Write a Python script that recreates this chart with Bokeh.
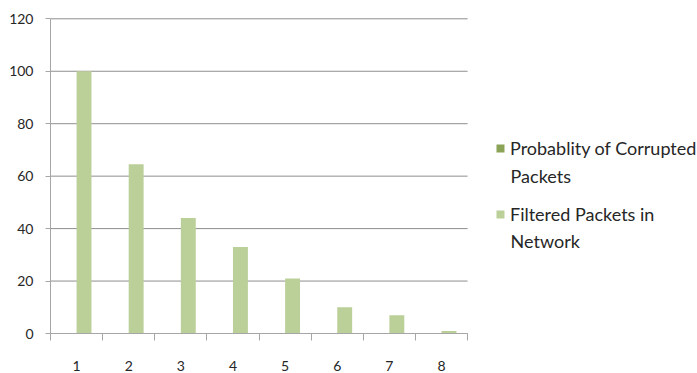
from bokeh.plotting import figure
from bokeh.models import (ColumnDataSource, Range1d, FixedTicker, Legend, LegendItem, Label)
from bokeh.transform import dodge
from bokeh.embed import file_html
from bokeh.resources import INLINE

# Packet index and the two measured series
packets = [1, 2, 3, 4, 5, 6, 7, 8]
corrupted_prob = [0, 0, 0, 0, 0, 0, 0, 0]
filtered_packets = [100, 64.5, 44, 33, 21, 10, 7, 1]
y_ticks = [0, 20, 40, 60, 80, 100, 120]

src = ColumnDataSource(dict(x=packets, corrupted=corrupted_prob, filtered=filtered_packets))

FONT = "Lato"
TEXT = "#262626"
X_LO, X_HI = 0.5, 8.5  # extent of the category axis

# The frame runs to the right edge so that the legend can sit inside it;
# the category axis and the gridlines are limited to the eight categories.
p = figure(width=697, height=373, output_backend="svg", toolbar_location=None,
           x_range=Range1d(X_LO, 12.91), y_range=Range1d(0, 120.5),
           min_border_left=50, min_border_right=0, min_border_top=17,
           min_border_bottom=38)
p.outline_line_color = None
p.background_fill_color = "white"
p.border_fill_color = "white"
p.xgrid.grid_line_color = None
p.ygrid.grid_line_color = None

# horizontal gridlines across the category area only
p.segment(x0=X_LO, x1=X_HI, y0=y_ticks, y1=y_ticks, line_color="#8E8E8E", line_width=1)

bar_w = 0.286
r1 = p.vbar(x=dodge("x", -0.143), top="corrupted", width=bar_w, source=src,
            fill_color="#8AA356", line_color=None)
r2 = p.vbar(x=dodge("x", 0.143), top="filtered", width=bar_w, source=src,
            fill_color="#BBCF98", line_color=None)

# y axis
p.yaxis.ticker = FixedTicker(ticks=y_ticks, minor_ticks=[])
p.yaxis.bounds = (0, 120)
p.yaxis.axis_line_color = "#A6A6A6"
p.yaxis.major_tick_line_color = "#A6A6A6"
p.yaxis.major_tick_out = 5
p.yaxis.major_tick_in = 0
p.yaxis.major_label_standoff = 12
p.yaxis.major_label_text_font = FONT
p.yaxis.major_label_text_font_size = "14px"
p.yaxis.major_label_text_color = TEXT

# x axis: labels at category centres, ticks on category boundaries
p.xaxis.ticker = FixedTicker(ticks=packets,
                             minor_ticks=[k + 0.5 for k in range(0, 9)])
p.xaxis.bounds = (X_LO, X_HI)
p.xaxis.axis_line_color = "#A6A6A6"
p.xaxis.major_tick_out = 0
p.xaxis.major_tick_in = 0
p.xaxis.minor_tick_line_color = "#A6A6A6"
p.xaxis.minor_tick_out = 7
p.xaxis.minor_tick_in = 0
p.xaxis.major_label_standoff = 20
p.xaxis.major_label_text_font = FONT
p.xaxis.major_label_text_font_size = "14px"
p.xaxis.major_label_text_color = TEXT

legend = Legend(items=[
    LegendItem(label="Probablity of Corrupted", renderers=[r1]),
    LegendItem(label="Filtered Packets in", renderers=[r2]),
], location=(445, 105.5), orientation="vertical")
legend.border_line_color = None
legend.background_fill_alpha = 0
legend.label_text_font = FONT
legend.label_text_font_size = "18px"
legend.label_text_color = TEXT
legend.label_height = 27
legend.glyph_width = 10
legend.glyph_height = 10
legend.label_standoff = 5
legend.spacing = 39
legend.padding = 0
legend.margin = 0
p.add_layout(legend, "center")

# second lines of the wrapped legend entries
for txt, yv in [("Packets", 60.0), ("Network", 35.4)]:
    p.add_layout(Label(x=9.325, y=yv, text=txt, text_font=FONT,
                       text_font_size="18px", text_color=TEXT,
                       text_baseline="alphabetic"))

open("out.html", "w").write(file_html(p, INLINE))
